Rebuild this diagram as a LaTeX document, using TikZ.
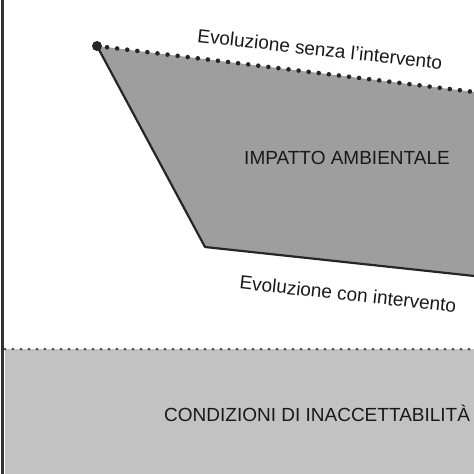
\documentclass[tikz,border=0pt]{standalone}
\usepackage{fontspec}
\setmainfont{Liberation Sans}
\usetikzlibrary{calc}
\begin{document}
\begin{tikzpicture}[x=1pt,y=-1pt,
  lbl/.style={font=\fontsize{19}{22}\selectfont, inner sep=0pt, text=black!90},
  polyfill/.style={fill=black!38},
  bandfill/.style={fill=black!24},
  edgeline/.style={draw=black!85, line width=2.2pt, line join=round},
  bigdot/.style={fill=black!85},
  smalldot/.style={fill=black!70},
  borderline/.style={draw=black!80, line width=3pt}]
\useasboundingbox (0,0) rectangle (474,474);
\clip (0,0) rectangle (474,474);
% bottom band
\coordinate (BL) at (5,349);
\coordinate (BR) at (477,349);
\fill[bandfill] (BL) rectangle (480,480);
\foreach \t in {0,...,59} {
  \fill[smalldot] ($(BL)!\t/59!(BR)$) circle (1.5);
}
% impact polygon
\coordinate (A) at (97,46);
\coordinate (B) at (480,92.7);
\coordinate (C) at (480,276.6);
\coordinate (D) at (205,247);
\fill[polyfill] (A) -- (B) -- (C) -- (D) -- cycle;
\draw[edgeline] (A) -- (D) -- (C);
\foreach \t in {1,...,38} {
  \fill[bigdot] ($(A)!\t/38!(B)$) circle (2.3);
}
\fill[bigdot] (A) circle (5);
% left border
\draw[borderline] (2.5,0) -- (2.5,474);
% labels
\node[lbl, rotate=-6.3] (senza) at (320,49) {Evoluzione senza l'intervento};
\node[lbl, rotate=-6.3] (con) at (348,294) {Evoluzione con intervento};
\node[lbl] (impatto) at (347,158) {IMPATTO AMBIENTALE};
\node[lbl, anchor=west] (cond) at (164,413) {CONDIZIONI DI INACCETTABILITÀ};
\end{tikzpicture}
\end{document}
